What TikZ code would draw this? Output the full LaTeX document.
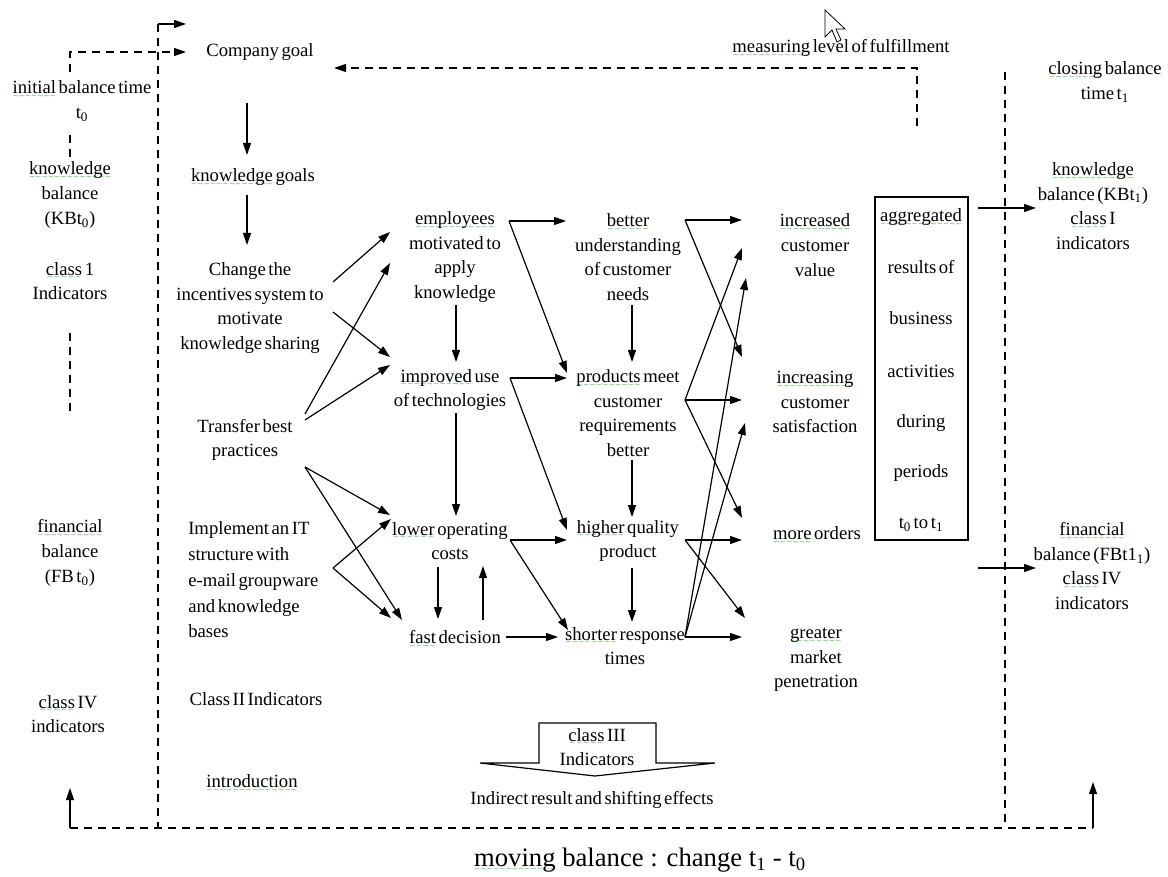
\documentclass[tikz,border=0pt]{standalone}
\usepackage{fontspec}
\setmainfont{Liberation Serif}[WordSpace=0.55]
\newfontfamily\bigfont{Liberation Serif}
\newfontfamily\sqfont{DejaVu Sans}
\usetikzlibrary{arrows.meta}
\definecolor{sqgreen}{RGB}{95,175,95}
% green wavy underline (spell-check mark) built from a row of small tildes
\newcommand\gw[1]{\setbox0\hbox{#1}\rlap{\raisebox{-3.6pt}[0pt][0pt]{\hbox to \wd0{\color{sqgreen}\sqfont\fontsize{5.5pt}{5.5pt}\selectfont\xleaders\hbox{\char"007E}\hfill}}}#1}
\newcommand\fs{\fontsize{14pt}{18.5pt}\selectfont}
\newcommand\fsb{\fontsize{14pt}{19.3pt}\selectfont}
\begin{document}
\begin{tikzpicture}[x=0.75pt,y=-0.75pt,
  lbl/.style={align=center, inner sep=0pt, font=\fs},
  arr/.style={-{Triangle[length=9pt,width=6pt]}, line width=0.9pt},
  dsh/.style={dash pattern=on 6pt off 4.5pt, line width=0.9pt},
  dsharr/.style={dsh, -{Triangle[length=9pt,width=6pt]}},
]
\useasboundingbox (0,0) rectangle (1168,877);
\fill[white] (0,0) rectangle (1168,877);

% ---------------- left column: initial balance ----------------
\node[lbl] (ib) at (82,101) {\gw{initial} balance time\\t\textsubscript{0}};
\node[lbl] (kb0) at (70,195) {\gw{knowledge}\\balance\\(KBt\textsubscript{0})};
\node[lbl] (c1) at (70,281) {\gw{class} 1\\Indicators};
\node[lbl] (fb0) at (70,553) {\gw{financial}\\balance\\(FB t\textsubscript{0})};
\node[lbl] (c4) at (68,714) {\gw{class} IV\\indicators};

% ---------------- strategy column ----------------
\node[lbl] (goal) at (260,52) {Company goal};
\node[lbl] (kgoal) at (253,177) {\gw{knowledge} goals};
\node[lbl] (change) at (250,308) {Change the\\incentives system to\\motivate\\knowledge sharing};
\node[lbl] (transfer) at (245,440) {Transfer best\\practices};
\node[lbl, align=left, anchor=west, font=\fsb] (implement) at (188,580) {Implement an IT\\structure with\\e-mail groupware\\and knowledge\\bases};
\node[lbl] (cls2) at (256,699) {Class II Indicators};
\node[lbl] (intro) at (252,781) {\gw{introduction}};

% ---------------- second column ----------------
\node[lbl] (emp) at (455,257) {\gw{employees}\\motivated to\\apply\\knowledge};
\node[lbl] (impr) at (450,390) {\gw{improved} use\\of technologies};
\node[lbl] (lower) at (450,541) {\gw{lower} operating\\costs};
\node[lbl] (fast) at (455,637) {\gw{fast} decision};

% ---------------- third column ----------------
\node[lbl] (better) at (628,257) {\gw{better}\\understanding\\of customer\\needs};
\node[lbl] (prod) at (628,413) {\gw{products} meet\\customer\\requirements\\better};
\node[lbl] (higher) at (628,541) {\gw{higher} quality\\product};
\node[lbl] (short) at (625,646) {\gw{shorter} response\\times};

% ---------------- results column ----------------
\node[lbl] (cval) at (815,245) {\gw{increased}\\customer\\value};
\node[lbl] (csat) at (815,402) {\gw{increasing}\\customer\\satisfaction};
\node[lbl] (orders) at (817,533) {\gw{more} orders};
\node[lbl] (market) at (816,660) {\gw{greater}\\market\\penetration};

% ---------------- aggregated results box ----------------
\node[draw, line width=0.9pt, inner sep=0pt, minimum width=69.75pt, minimum height=257.25pt] (agg) at (921.5,368.5) {};
\node[lbl] (ag1) at (921,217) {\gw{aggregated}};
\node[lbl] (ag2) at (921,267) {results of};
\node[lbl] (ag3) at (921,318) {business};
\node[lbl] (ag4) at (921,371) {activities};
\node[lbl] (ag5) at (921,423) {during};
\node[lbl] (ag6) at (921,473) {periods};
\node[lbl] (ag7) at (921,525) {t\textsubscript{0} to t\textsubscript{1}};

% ---------------- right column: closing balance ----------------
\node[lbl] (meas) at (841,48) {\gw{measuring} level of fulfillment};
\node[lbl] (close) at (1105,82) {\gw{closing} balance\\time t\textsubscript{1}};
\node[lbl] (kb1) at (1093,206) {\gw{knowledge}\\balance (KBt\textsubscript{1})\\\gw{class} I\\indicators};
\node[lbl] (fb1) at (1092,566) {\gw{financial}\\balance (FBt1\textsubscript{1})\\\gw{class} IV\\indicators};

% ---------------- class III arrow and footer ----------------
\draw[line width=0.9pt, fill=white] (539,723) -- (656,723) -- (656,763) -- (715,763)
  -- (595,776) -- (480,763) -- (539,763) -- cycle;
\node[lbl] (c3) at (597,747) {\gw{class} III\\Indicators};
\node[lbl] (indirect) at (592,800) {Indirect result and shifting effects};
\node[inner sep=0pt, font=\bigfont\fontsize{20pt}{24pt}\selectfont] (moving) at (640,860)
  {\gw{moving} balance : change t\textsubscript{1} - t\textsubscript{0}};

% ---------------- mouse pointer ----------------
\draw[line width=0.6pt, fill=white] (825,10) -- (825,37) -- (832,30) -- (837,42) -- (841,40)
  -- (836,29) -- (845,29) -- cycle;

% ---------------- connector ports ----------------
\coordinate (ibtop) at (70,72);
\coordinate (goalw) at (186,52);
\coordinate (t0a) at (70,135);
\coordinate (t0b) at (70,160);
\coordinate (c1a) at (70,333);
\coordinate (c1b) at (70,411);
\coordinate (lvtop) at (158,24);
\coordinate (lvtip) at (186,24);
\coordinate (lvbot) at (158,828);
\coordinate (lb) at (70,828);
\coordinate (lbtip) at (70,788);
\coordinate (rv) at (1005,72);
\coordinate (rvbot) at (1005,828);
\coordinate (rb) at (1093,828);
\coordinate (rbtip) at (1093,782);
\coordinate (measb) at (917,126);
\coordinate (goale) at (334,68);

\coordinate (g-o) at (247,103);  \coordinate (kg-i) at (247,155);
\coordinate (kg-o) at (247,195); \coordinate (ch-i) at (247,245);
\coordinate (ch-o1) at (333,282); \coordinate (ch-o2) at (333,312);
\coordinate (tr-o1) at (305,414); \coordinate (tr-o2) at (305,420);
\coordinate (tr-o3) at (305,467);
\coordinate (im-o) at (333,568);
\coordinate (em-i1) at (390,232); \coordinate (em-i2) at (390,263);
\coordinate (ip-i1) at (390,357); \coordinate (ip-i2) at (390,365);
\coordinate (lo-i1) at (390,515); \coordinate (lo-i2) at (391,519);
\coordinate (fd-i1) at (391,618); \coordinate (fd-i2) at (402,620);

\coordinate (em-b) at (456,305); \coordinate (ip-t) at (456,362);
\coordinate (ip-b) at (456,413); \coordinate (lo-t) at (456,516);
\coordinate (lo-b1) at (438,567); \coordinate (fd-t1) at (438,619);
\coordinate (fd-t2) at (483,620); \coordinate (lo-b2) at (483,566);
\coordinate (fd-o) at (506,637); \coordinate (sr-i) at (558,637);

\coordinate (em-o) at (509,221);
\coordinate (ip-o) at (510,378);
\coordinate (lo-o) at (510,540);
\coordinate (bu-i) at (566,221);
\coordinate (pm-i1) at (567,373); \coordinate (pm-i2) at (567,378);
\coordinate (hq-i1) at (567,530); \coordinate (hq-i2) at (567,540);
\coordinate (sr-i2) at (568,630);

\coordinate (bu-b) at (632,305); \coordinate (pm-t) at (632,362);
\coordinate (pm-b) at (632,460); \coordinate (hq-t) at (632,517);
\coordinate (hq-b) at (632,568); \coordinate (sr-t) at (632,622);

\coordinate (bu-o) at (685,220);
\coordinate (pm-o) at (685,400);
\coordinate (hq-o) at (685,540);
\coordinate (sr-o) at (685,637);
\coordinate (cv-i1) at (742,220); \coordinate (cv-i2) at (742,248); \coordinate (cv-i3) at (746,278);
\coordinate (cs-i1) at (742,357); \coordinate (cs-i2) at (742,400); \coordinate (cs-i3) at (745,423);
\coordinate (mo-i1) at (742,518); \coordinate (mo-i2) at (742,540);
\coordinate (gm-i1) at (745,618); \coordinate (gm-i2) at (742,637);

\coordinate (ag-o1) at (978,208); \coordinate (kb1-i) at (1036,208);
\coordinate (ag-o2) at (978,568); \coordinate (fb1-i) at (1036,568);

% ---------------- dashed balance frame ----------------
\draw[dsharr] (ibtop) |- (goalw);
\draw[dsh] (t0a) -- (t0b);
\draw[dsh] (c1a) -- (c1b);
\draw[dsh] (lvtop) -- (lvbot);
\draw[arr] (lvtop) -- (lvtip);
\draw[dsh] (lb) -- (rb);
\draw[arr] (lb) -- (lbtip);
\draw[arr] (rb) -- (rbtip);
\draw[dsh] (rv) -- (rvbot);
\draw[dsharr] (measb) |- (goale);

% ---------------- cause and effect arrows ----------------
\draw[arr] (g-o) -- (kg-i);
\draw[arr] (kg-o) -- (ch-i);
\draw[arr] (ch-o1) -- (em-i1);
\draw[arr] (ch-o2) -- (ip-i1);
\draw[arr] (tr-o1) -- (em-i2);
\draw[arr] (tr-o2) -- (ip-i2);
\draw[arr] (tr-o3) -- (lo-i1);
\draw[arr] (tr-o3) -- (fd-i2);
\draw[arr] (im-o) -- (lo-i2);
\draw[arr] (im-o) -- (fd-i1);

\draw[arr] (em-b) -- (ip-t);
\draw[arr] (ip-b) -- (lo-t);
\draw[arr] (lo-b1) -- (fd-t1);
\draw[arr] (fd-t2) -- (lo-b2);
\draw[arr] (fd-o) -- (sr-i);

\draw[arr] (em-o) -- (bu-i);
\draw[arr] (em-o) -- (pm-i1);
\draw[arr] (ip-o) -- (pm-i2);
\draw[arr] (ip-o) -- (hq-i1);
\draw[arr] (lo-o) -- (hq-i2);
\draw[arr] (lo-o) -- (sr-i2);

\draw[arr] (bu-b) -- (pm-t);
\draw[arr] (pm-b) -- (hq-t);
\draw[arr] (hq-b) -- (sr-t);

\draw[arr] (bu-o) -- (cv-i1);
\draw[arr] (bu-o) -- (cs-i1);
\draw[arr] (pm-o) -- (cs-i2);
\draw[arr] (pm-o) -- (cv-i2);
\draw[arr] (pm-o) -- (mo-i1);
\draw[arr] (hq-o) -- (mo-i2);
\draw[arr] (hq-o) -- (gm-i1);
\draw[arr] (sr-o) -- (gm-i2);
\draw[arr] (sr-o) -- (cv-i3);
\draw[arr] (sr-o) -- (cs-i3);

\draw[arr] (ag-o1) -- (kb1-i);
\draw[arr] (ag-o2) -- (fb1-i);
\end{tikzpicture}
\end{document}
